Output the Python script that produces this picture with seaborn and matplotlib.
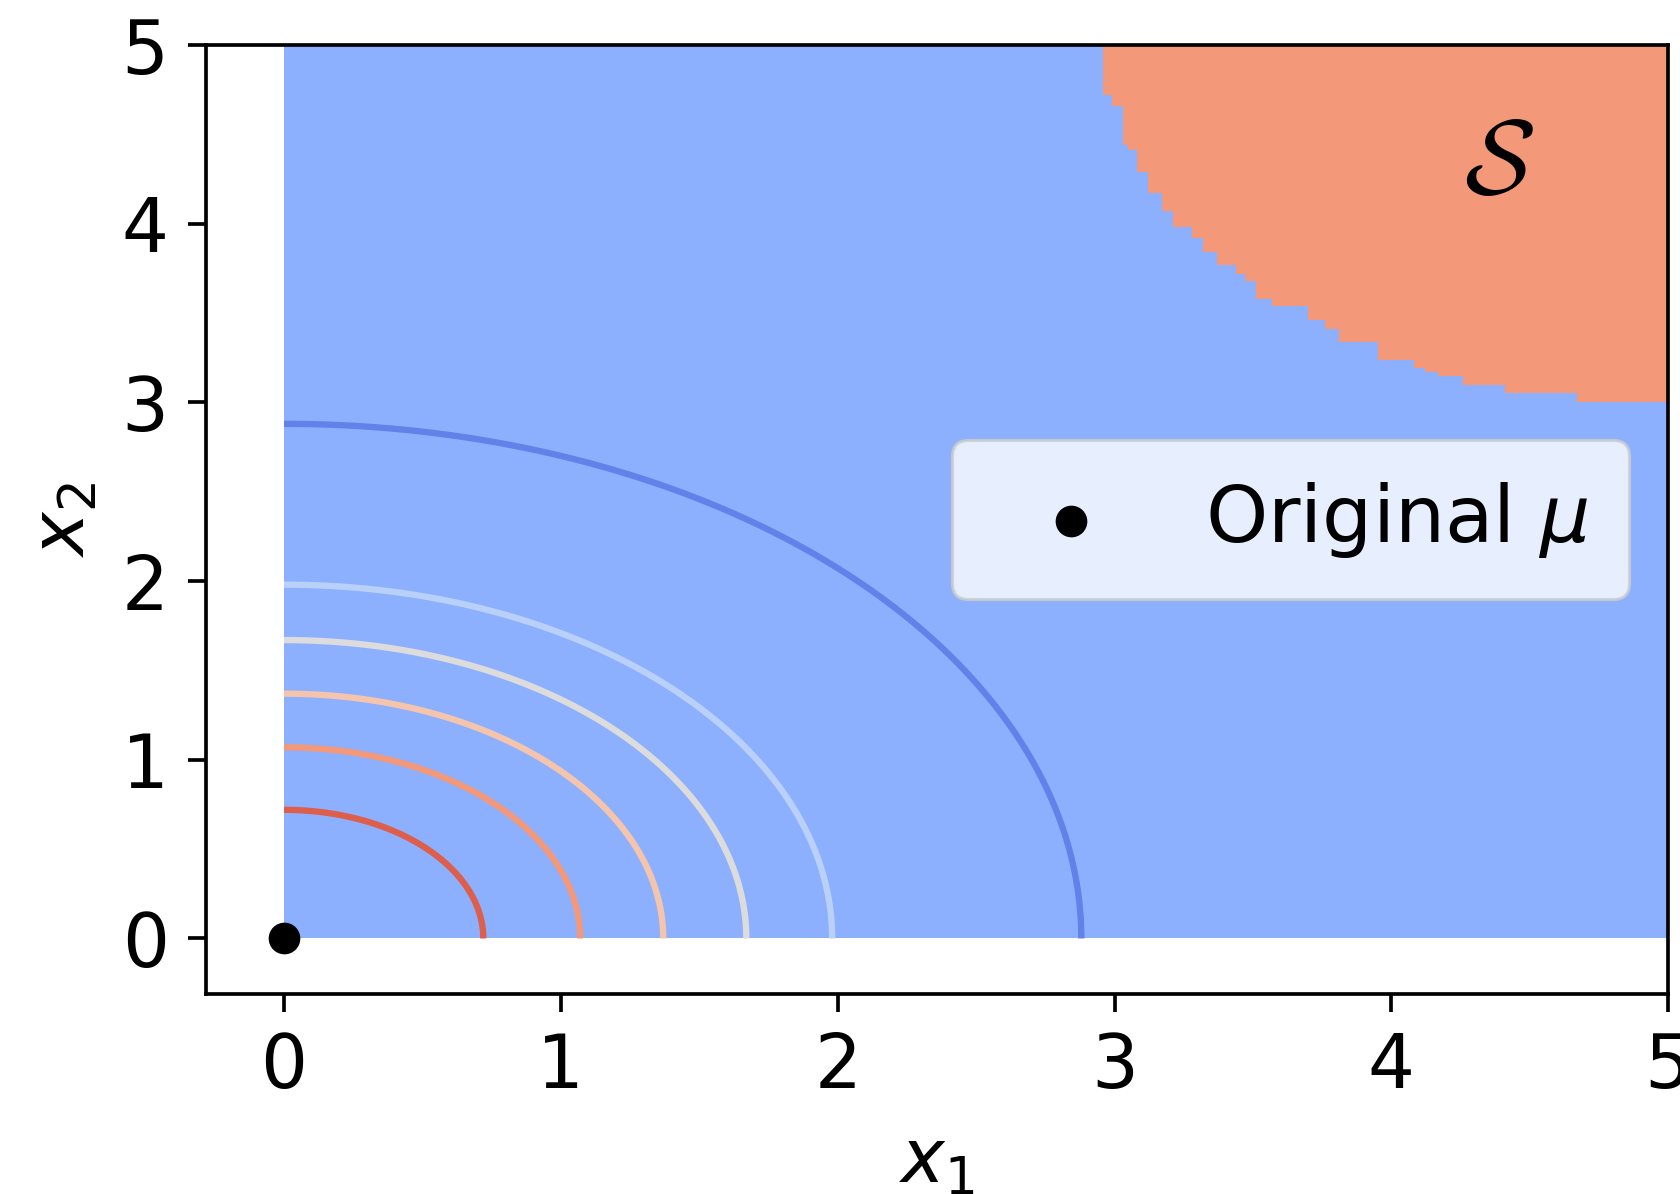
import numpy as np
import matplotlib
matplotlib.use("Agg")
import matplotlib.pyplot as plt
import seaborn as sns

# ---- data ----
# domain of the shaded background (x1 and x2 ranges)
domain_x = [0.0, 5.0]
domain_y = [0.0, 5.0]

# staircase lower boundary of region S: column start x1 and lower x2
s_x = [2.96, 2.99, 3.03, 3.05, 3.08, 3.12, 3.17, 3.21, 3.28, 3.32, 3.37, 3.44,
       3.47, 3.51, 3.57, 3.70, 3.76, 3.81, 3.95, 4.08, 4.12, 4.17, 4.26, 4.41,
       4.67, 5.00]
s_y = [4.72, 4.66, 4.44, 4.41, 4.29, 4.17, 4.07, 3.98, 3.92, 3.84, 3.77, 3.72,
       3.68, 3.58, 3.54, 3.46, 3.41, 3.34, 3.24, 3.19, 3.17, 3.15, 3.10, 3.05,
       3.00, 3.00]

# contour radii (ascending) and their colormap positions
contour_radii = [0.72, 1.07, 1.37, 1.67, 1.98, 2.88]
contour_cpos = [0.875, 0.75, 0.625, 0.5, 0.375, 0.125]

# original mean
mu_x = [0.0]
mu_y = [0.0]

xticks = [0, 1, 2, 3, 4, 5]
yticks = [0, 1, 2, 3, 4, 5]

# ---- style ----
K = 3.8
plt.rcParams.update({
    "font.family": ["DejaVu Sans"],
    "font.size": 14 * K,
    "axes.linewidth": 0.7 * K,
    "xtick.major.size": 3.5 * K,
    "ytick.major.size": 3.5 * K,
    "xtick.major.width": 0.7 * K,
    "ytick.major.width": 0.7 * K,
    "xtick.major.pad": 3.5 * K,
    "ytick.major.pad": 3.5 * K,
    "axes.labelpad": 4 * K,
    "legend.fontsize": 15 * K,
    "patch.linewidth": 0.6 * K,
})

cmap = sns.color_palette("coolwarm", as_cmap=True)

fig = plt.figure(figsize=(16.8, 11.94), dpi=100)
ax = fig.add_axes([0.1224, 0.1673, 0.993 - 0.1224, 0.9623 - 0.1673])

# background region (not in S)
ax.fill_between(domain_x, domain_y[0], domain_y[1], color=cmap(0.25), linewidth=0, zorder=1)
# region S
ax.fill_between(s_x, s_y, 5.0, step="post", color=cmap(0.75), linewidth=0, zorder=2)

# contour lines
gx = np.linspace(domain_x[0], domain_x[1], 601)
gy = np.linspace(domain_y[0], domain_y[1], 601)
GX, GY = np.meshgrid(gx, gy)
R = np.hypot(GX, GY)
ax.contour(GX, GY, R, levels=contour_radii,
           colors=[cmap(c) for c in contour_cpos], linewidths=1.2 * K, zorder=3)

# original mean point
sns.scatterplot(x=mu_x, y=mu_y, ax=ax, color="black", s=(6 * K) ** 2,
                edgecolor="black", linewidth=0, label=r"Original $\mu$", zorder=5, clip_on=False)

ax.text(4.39, 4.33, r"$\mathcal{S}$", fontsize=20 * K, ha="center", va="center",
        math_fontfamily="cm", zorder=6)

ax.set_xlim(-0.283, 5.0)
ax.set_ylim(-0.312, 5.0)
ax.set_xticks(xticks)
ax.set_yticks(yticks)
ax.set_xlabel(r"$x_1$")
ax.set_ylabel(r"$x_2$")

ax.legend(loc="center right", borderpad=0.5, handletextpad=0.7)

fig.savefig("out.png", dpi=100)
